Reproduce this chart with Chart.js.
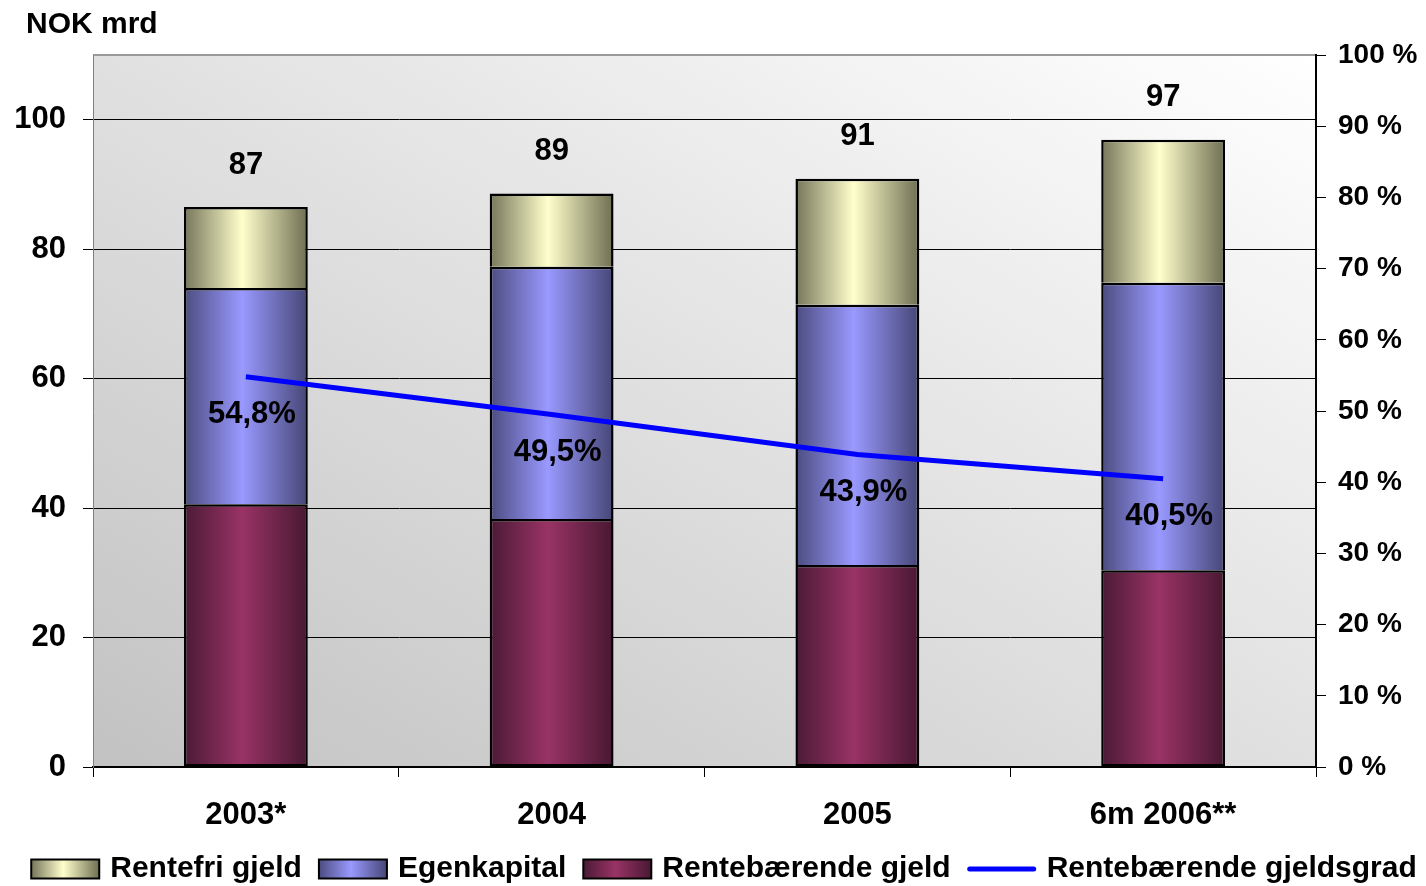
<!DOCTYPE html>
<html lang="no">

<head>
    <meta charset="UTF-8">
    <title>Rentebærende gjeldsgrad</title>
    <style>
        body {
            margin: 0;
            background: #ffffff;
        }

        .chart-container {
            width: 1426px;
            height: 886px;
            position: relative;
        }
    </style>
</head>

<body>
    <div class="chart-container">
        <canvas id="gjeldChart"></canvas>
    </div>

    <script src="https://cdn.jsdelivr.net/npm/chart.js"></script>
    <script>
        // Data (NOK mrd / %)
        const categories = ['2003*', '2004', '2005', '6m 2006**'];
        const renteberendeGjeld = [40.6, 38.3, 31.2, 30.4];
        const egenkapital = [33.4, 39.0, 40.2, 44.4];
        const rentefriGjeld = [12.5, 11.3, 19.5, 22.1];
        const gjeldsgrad = [54.8, 49.5, 43.9, 40.5];
        const totalLabels = ['87', '89', '91', '97'];

        const FONT = "'Liberation Sans', Arial, sans-serif";
        const BAR_PCT = 0.405;

        Chart.defaults.font.family = FONT;
        Chart.defaults.font.weight = 'bold';
        Chart.defaults.color = '#000';

        const palettes = {
            rentefri: ['#75755a', '#ffffcc', '#6e6e52'],
            egen: ['#4c4c80', '#9999ff', '#464676'],
            rente: ['#4a1a35', '#993366', '#481832']
        };

        function makeGrad(ctx, x0, x1, p) {
            const g = ctx.createLinearGradient(x0, 0, x1, 0);
            g.addColorStop(0, p[0]);
            g.addColorStop(0.47, p[1]);
            g.addColorStop(1, p[2]);
            return g;
        }

        // Horizontal shading across each bar, like the original
        function barFill(p) {
            return (c) => {
                const chart = c.chart;
                const xs = chart.scales.x;
                if (!xs || c.type !== 'data' || !chart.chartArea) return p[1];
                const cx = xs.getPixelForValue(c.dataIndex);
                const w = (xs.width / categories.length) * BAR_PCT;
                return makeGrad(chart.ctx, cx - w / 2, cx + w / 2, p);
            };
        }

        const decorPlugin = {
            id: 'decor',
            beforeDraw(chart) {
                const { ctx, chartArea: a } = chart;
                const W = a.right - a.left, H = a.bottom - a.top;
                const s = 2 / (H / W + W / H);
                const g = ctx.createLinearGradient(a.left, a.bottom, a.left + s * H, a.bottom - s * W);
                g.addColorStop(0, '#c2c2c2');
                g.addColorStop(1, '#ffffff');
                ctx.save();
                ctx.fillStyle = g;
                ctx.fillRect(a.left, a.top, W, H);
                ctx.strokeStyle = '#9a9a9a';
                ctx.lineWidth = 2;
                ctx.beginPath();
                ctx.moveTo(a.left, a.top);
                ctx.lineTo(a.right, a.top);
                ctx.stroke();
                ctx.restore();
            },
            afterDraw(chart) {
                const ctx = chart.ctx;
                ctx.save();
                ctx.fillStyle = '#000';
                ctx.font = 'bold 30px ' + FONT;
                ctx.textBaseline = 'middle';
                ctx.textAlign = 'left';
                ctx.fillText('NOK mrd', 26, 25);

                // totals above bars
                ctx.font = 'bold 31px ' + FONT;
                ctx.textAlign = 'center';
                const top = chart.getDatasetMeta(2);
                top.data.forEach((bar, i) => {
                    ctx.fillText(totalLabels[i], bar.x, bar.y - 42);
                });

                // gjeldsgrad labels
                const line = chart.getDatasetMeta(3);
                line.data.forEach((pt, i) => {
                    ctx.fillText(gjeldsgrad[i].toFixed(1).replace('.', ',') + '%', pt.x + 6, pt.y + 38);
                });

                // legend
                ctx.font = 'bold 30px ' + FONT;
                const items = [
                    { text: 'Rentefri gjeld', pal: palettes.rentefri },
                    { text: 'Egenkapital', pal: palettes.egen },
                    { text: 'Rentebærende gjeld', pal: palettes.rente },
                    { text: 'Rentebærende gjeldsgrad', line: true }
                ];
                const boxW = 68, boxH = 19, gapIn = 11, gapOut = 17;
                let total = 0;
                items.forEach((it, i) => {
                    it.w = ctx.measureText(it.text).width;
                    total += boxW + gapIn + it.w + (i < items.length - 1 ? gapOut : 0);
                });
                let x = 724 - total / 2;
                const y = 869;
                ctx.textAlign = 'left';
                items.forEach((it) => {
                    if (it.line) {
                        ctx.strokeStyle = '#0000ff';
                        ctx.lineWidth = 5;
                        ctx.lineCap = 'round';
                        ctx.beginPath();
                        ctx.moveTo(x + 2, y);
                        ctx.lineTo(x + boxW - 2, y);
                        ctx.stroke();
                    } else {
                        ctx.fillStyle = makeGrad(ctx, x, x + boxW, it.pal);
                        ctx.fillRect(x, y - boxH / 2, boxW, boxH);
                        ctx.strokeStyle = '#000';
                        ctx.lineWidth = 2;
                        ctx.strokeRect(x, y - boxH / 2, boxW, boxH);
                    }
                    x += boxW + gapIn;
                    ctx.fillStyle = '#000';
                    ctx.fillText(it.text, x, y);
                    x += it.w + gapOut;
                });
                ctx.restore();
            }
        };

        const barCommon = {
            borderColor: '#000',
            borderWidth: 2.5,
            barPercentage: 1,
            categoryPercentage: BAR_PCT,
            yAxisID: 'y',
            order: 1
        };

        new Chart(document.getElementById('gjeldChart'), {
            type: 'bar',
            data: {
                labels: categories,
                datasets: [
                    Object.assign({ label: 'Rentebærende gjeld', data: renteberendeGjeld, backgroundColor: barFill(palettes.rente), borderSkipped: false }, barCommon),
                    Object.assign({ label: 'Egenkapital', data: egenkapital, backgroundColor: barFill(palettes.egen), borderSkipped: 'start' }, barCommon),
                    Object.assign({ label: 'Rentefri gjeld', data: rentefriGjeld, backgroundColor: barFill(palettes.rentefri), borderSkipped: 'start' }, barCommon),
                    {
                        type: 'line',
                        label: 'Rentebærende gjeldsgrad',
                        data: gjeldsgrad,
                        borderColor: '#0000ff',
                        borderWidth: 5,
                        pointRadius: 0,
                        tension: 0,
                        yAxisID: 'y1',
                        order: 0
                    }
                ]
            },
            options: {
                responsive: true,
                maintainAspectRatio: false,
                animation: false,
                layout: { padding: { top: 55, bottom: 49, left: 0, right: 0 } },
                plugins: {
                    legend: { display: false },
                    tooltip: { enabled: false }
                },
                scales: {
                    x: {
                        stacked: true,
                        offset: true,
                        grid: { offset: true, drawOnChartArea: false, color: '#000', tickLength: 10 },
                        border: { color: '#000', width: 2 },
                        ticks: { font: { size: 31 }, padding: 20 },
                        afterFit(s) { s.height = 70; }
                    },
                    y: {
                        stacked: true,
                        position: 'left',
                        min: 0,
                        max: 110,
                        grid: { color: '#000', lineWidth: 1, tickLength: 10 },
                        border: { color: '#808080', width: 1 },
                        ticks: { stepSize: 20, includeBounds: false, font: { size: 31 }, padding: 17 },
                        afterFit(s) { s.width = 93; }
                    },
                    y1: {
                        position: 'right',
                        min: 0,
                        max: 100,
                        grid: { drawOnChartArea: false, color: '#000', tickLength: 10 },
                        border: { color: '#000', width: 2 },
                        ticks: { stepSize: 10, font: { size: 28 }, padding: 12, callback: (v) => v + ' %' },
                        afterFit(s) { s.width = 110; }
                    }
                }
            },
            plugins: [decorPlugin]
        });
    </script>
</body>

</html>
